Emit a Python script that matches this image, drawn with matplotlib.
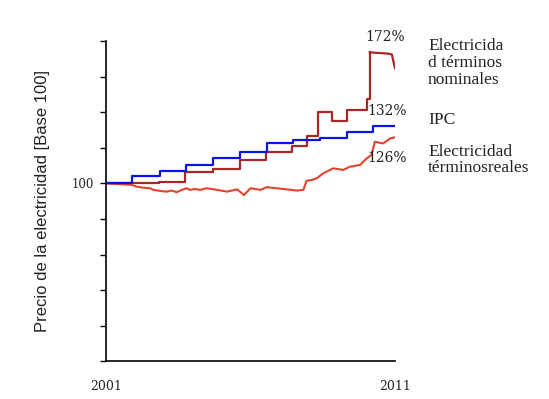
import matplotlib
matplotlib.use("Agg")
import matplotlib.pyplot as plt

# IPC (step series: year of change, new value)
ipc_years = [2001.0, 2001.89, 2002.87, 2003.77, 2004.69, 2005.64, 2006.56,
             2007.48, 2008.40, 2009.33, 2010.25, 2011.0]
ipc_vals = [100, 104.2, 107.0, 110.6, 114.1, 117.8, 122.5,
            124.4, 125.3, 129.0, 132.2, 132.2]

# Electricity, nominal terms (step series, then a sloping tail)
nom_years = [2001.0, 2002.83, 2003.73, 2004.70, 2005.64, 2006.54, 2007.44,
             2007.94, 2008.35, 2008.81, 2009.33, 2010.02, 2010.13]
nom_vals = [100, 101.0, 106.3, 108.0, 113.2, 117.5, 120.8,
            126.7, 140.0, 135.1, 141.2, 147.2, 173.6]
nom_tail_years = [2010.13, 2010.72, 2010.89, 2011.0]
nom_tail_vals = [173.6, 173.0, 172.5, 164.6]

# Electricity, real terms
real_years = [2001.0, 2001.89, 2002.06, 2002.29, 2002.53, 2002.64, 2002.87,
              2003.10, 2003.27, 2003.45, 2003.62, 2003.79, 2003.91, 2004.08,
              2004.25, 2004.48, 2004.84, 2005.19, 2005.54, 2005.77, 2006.00,
              2006.35, 2006.56, 2006.90, 2007.25, 2007.60, 2007.83, 2007.94,
              2008.11, 2008.29, 2008.52, 2008.86, 2009.21, 2009.44, 2009.79,
              2010.02, 2010.19, 2010.30, 2010.59, 2010.83, 2011.0]
real_vals = [100, 99.2, 98.2, 97.6, 97.3, 96.4, 95.8,
             95.4, 96.0, 95.1, 96.4, 97.3, 96.4, 96.9,
             96.4, 97.3, 96.4, 95.4, 96.7, 93.5, 97.3,
             96.4, 97.9, 97.3, 96.7, 96.0, 96.4, 101.5,
             101.9, 102.9, 105.7, 108.5, 107.6, 109.4, 110.4,
             114.1, 116.0, 123.4, 122.5, 125.3, 125.9]

end_labels = ["172%", "132%", "126%"]
series_names = ["Electricida\nd términos\nnominales", "IPC",
                "Electricidad\ntérminosreales"]
x_ticks = [2001, 2011]
y_ticks = [0, 20, 40, 60, 80, 100, 120, 140, 160, 180]

c_ipc = "#0a14e6"
c_nom = "#a82828"
c_real = "#e2432c"

fig = plt.figure(figsize=(5.49, 3.99), dpi=100)
ax = fig.add_axes([0.1931, 0.094, 0.5264, 0.8032])

ax.plot(real_years, real_vals, color=c_real, lw=1.5, zorder=2)
ax.plot(nom_years, nom_vals, color=c_nom, lw=1.6, drawstyle="steps-post", zorder=3)
ax.plot(nom_tail_years, nom_tail_vals, color=c_nom, lw=1.6, zorder=3)
ax.plot(ipc_years, ipc_vals, color=c_ipc, lw=1.6, drawstyle="steps-post", zorder=4)

ax.set_xlim(2001, 2011)
ax.set_ylim(0, 180)
for s in ["top", "right"]:
    ax.spines[s].set_visible(False)
for s in ["left", "bottom"]:
    ax.spines[s].set_linewidth(1.2)

ax.set_yticks(y_ticks)
ax.set_yticklabels(["100" if v == 100 else "" for v in y_ticks],
                   fontfamily="DejaVu Serif", fontsize=8.5, color="#222222")
ax.tick_params(axis="y", length=4, width=1, pad=5)
ax.set_xticks(x_ticks)
ax.set_xticklabels([str(v) for v in x_ticks], fontfamily="DejaVu Serif",
                   fontsize=9, color="#222222")
ax.tick_params(axis="x", length=0, pad=13)

ax.set_ylabel("Precio de la electricidad [Base 100]", family="Liberation Sans",
              fontsize=12, color="#222222", labelpad=15)

pct_kw = dict(fontfamily="DejaVu Serif", fontsize=10, color="#222222",
              ha="center", va="center", clip_on=False)
ax.text(2010.66, 182.2, end_labels[0], **pct_kw)
ax.text(2010.73, 140.7, end_labels[1], **pct_kw)
ax.text(2010.73, 114.3, end_labels[2], **pct_kw)

lab_kw = dict(fontfamily="Liberation Serif", fontsize=12.5, color="#222222",
              ha="left", va="center", linespacing=1.08, clip_on=False)
fig.text(428 / 549, 1 - 63 / 399, series_names[0], **lab_kw)
fig.text(428 / 549, 1 - 120 / 399, series_names[1], **lab_kw)
fig.text(428 / 549, 1 - 160 / 399, series_names[2], **lab_kw)

fig.savefig("out.png", dpi=100)
